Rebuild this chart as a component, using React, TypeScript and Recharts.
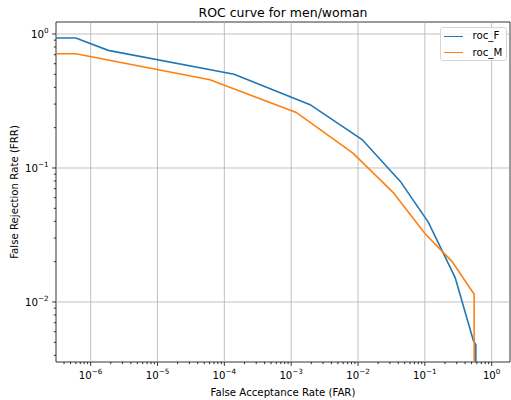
import React from 'react';
import { LineChart, Line, XAxis, YAxis, ReferenceLine, ReferenceArea, Legend } from 'recharts';

// ---- data ----
// 1e-9 stands in for FAR = 0 and 1e-6 for FRR = 0 (clipped on the log axes, as matplotlib does)
const farF = [1e-9, 6.0e-7, 1.83e-6, 1.4e-4, 1.92e-3, 1.15e-2, 4.3e-2, 0.113, 0.284, 0.533, 0.58, 0.58];
const frrF = [0.933, 0.933, 0.755, 0.501, 0.297, 0.163, 0.0794, 0.0393, 0.0152, 0.00514, 0.0048, 1e-6];
const farM = [1e-9, 6.0e-7, 6.1e-5, 1.19e-3, 8.4e-3, 0.0334, 0.101, 0.254, 0.547, 0.547];
const frrM = [0.713, 0.713, 0.456, 0.26, 0.129, 0.0658, 0.0323, 0.0201, 0.0114, 1e-6];

const seriesNames = ['roc_F', 'roc_M'];
const seriesColors = ['#1f77b4', '#ff7f0e'];

const xMajorTicks = [1e-6, 1e-5, 1e-4, 1e-3, 1e-2, 1e-1, 1];
const xMajorExp = ['\u22126', '\u22125', '\u22124', '\u22123', '\u22122', '\u22121', '0'];
const yMajorTicks = [1e-2, 1e-1, 1];
const yMajorExp = ['\u22122', '\u22121', '0'];

const xDomain = [3.03e-7, 1.88];
const yDomain = [3.565e-3, 1.229];

const minorTicks = (lo: number, hi: number, e0: number, e1: number) => {
  const out: number[] = [];
  for (let e = e0; e <= e1; e++) {
    for (let k = 2; k <= 9; k++) {
      const v = k * Math.pow(10, e);
      if (v >= lo && v <= hi) out.push(v);
    }
  }
  return out;
};
const xMinor = minorTicks(xDomain[0], xDomain[1], -7, 0);
const yMinor = minorTicks(yDomain[0], yDomain[1], -3, 0);

const dataF = farF.map((v, i) => ({ far: v, frr: frrF[i] }));
const dataM = farM.map((v, i) => ({ far: v, frr: frrM[i] }));

const FONT = 'DejaVu Sans, sans-serif';
const FS = 10.2;
const SUP = 7.2;

const findMajor = (list: number[], v: number) =>
  list.findIndex((m) => Math.abs(m - v) / m < 1e-9);

const XTick = (props: any) => {
  const { x, y, payload } = props;
  const idx = findMajor(xMajorTicks, payload.value);
  const major = idx >= 0;
  return (
    <g>
      <line x1={x} x2={x} y1={y} y2={y + (major ? 3.9 : 2.2)} stroke="#000" strokeWidth={0.8} />
      {major && (
        <text x={x} y={y + 16.5} textAnchor="middle" fontFamily={FONT} fontSize={FS} fill="#000">
          10<tspan dy={-4.5} fontSize={SUP}>{xMajorExp[idx]}</tspan>
        </text>
      )}
    </g>
  );
};

const YTick = (props: any) => {
  const { x, y, payload } = props;
  const idx = findMajor(yMajorTicks, payload.value);
  const major = idx >= 0;
  return (
    <g>
      <line x1={x} x2={x - (major ? 3.9 : 2.2)} y1={y} y2={y} stroke="#000" strokeWidth={0.8} />
      {major && (
        <text x={x - 7.5} y={y + 3.7} textAnchor="end" fontFamily={FONT} fontSize={FS} fill="#000">
          10<tspan dy={-4.5} fontSize={SUP}>{yMajorExp[idx]}</tspan>
        </text>
      )}
    </g>
  );
};

const renderLegend = (props: any) => {
  const items = props.payload || [];
  return (
    <div
      style={{
        width: 67,
        height: 34,
        boxSizing: 'border-box',
        border: '1px solid #d5d5d5',
        borderRadius: 3,
        background: 'rgba(255,255,255,0.8)',
        position: 'relative',
      }}
    >
      {items.map((it: any, i: number) => (
        <div
          key={i}
          style={{ position: 'absolute', left: 0, top: 0.2 + i * 16.4, height: 16, display: 'flex', alignItems: 'center' }}
        >
          <div style={{ marginLeft: 2.5, width: 19.5, height: 0, borderTop: `1.6px solid ${it.color}` }} />
          <span style={{ marginLeft: 9.5, fontFamily: FONT, fontSize: FS, color: '#000', lineHeight: '16px' }}>
            {it.value}
          </span>
        </div>
      ))}
    </div>
  );
};

export default function App() {
  return (
    <div style={{ position: 'absolute', left: 0, top: 0, width: 511, height: 400, background: '#fff' }}>
      <LineChart width={511} height={400} margin={{ top: 22, right: 1, bottom: 0, left: 0 }}>
        <text x={283} y={16.5} textAnchor="middle" fontFamily={FONT} fontSize={12.5} fill="#000">
          ROC curve for men/woman
        </text>
        <XAxis
          dataKey="far"
          type="number"
          scale="log"
          domain={xDomain}
          allowDataOverflow
          ticks={[...xMajorTicks, ...xMinor]}
          interval={0}
          tick={<XTick />}
          tickLine={false}
          tickSize={0}
          tickMargin={0}
          axisLine={false}
          height={38}
          label={{
            value: 'False Acceptance Rate (FAR)',
            position: 'insideBottom',
            offset: 4,
            fontFamily: FONT,
            fontSize: FS,
            fill: '#000',
          }}
        />
        <YAxis
          dataKey="frr"
          type="number"
          scale="log"
          domain={yDomain}
          allowDataOverflow
          ticks={[...yMajorTicks, ...yMinor]}
          interval={0}
          tick={<YTick />}
          tickLine={false}
          tickSize={0}
          tickMargin={0}
          axisLine={false}
          width={56}
          label={{
            content: (p: any) => {
              const vb = p.viewBox || { x: 0, y: 22, width: 56, height: 340 };
              const cx = 14.5;
              const cy = vb.y + vb.height / 2;
              return (
                <text
                  x={cx}
                  y={cy}
                  transform={`rotate(-90 ${cx} ${cy})`}
                  textAnchor="middle"
                  dominantBaseline="central"
                  fontFamily={FONT}
                  fontSize={FS}
                  fill="#000"
                >
                  False Rejection Rate (FRR)
                </text>
              );
            },
          }}
        />
        {xMajorTicks.map((t) => (
          <ReferenceLine key={'gx' + t} x={t} stroke="#b0b0b0" strokeWidth={0.8} />
        ))}
        {yMajorTicks.map((t) => (
          <ReferenceLine key={'gy' + t} y={t} stroke="#b0b0b0" strokeWidth={0.8} />
        ))}
        <Line
          data={dataF}
          dataKey="frr"
          name={seriesNames[0]}
          stroke={seriesColors[0]}
          strokeWidth={1.6}
          dot={false}
          activeDot={false}
          isAnimationActive={false}
        />
        <Line
          data={dataM}
          dataKey="frr"
          name={seriesNames[1]}
          stroke={seriesColors[1]}
          strokeWidth={1.6}
          dot={false}
          activeDot={false}
          isAnimationActive={false}
        />
        <ReferenceArea
          x1={xDomain[0]}
          x2={xDomain[1]}
          y1={yDomain[0]}
          y2={yDomain[1]}
          fill="none"
          fillOpacity={0}
          stroke="#000"
          strokeWidth={0.8}
          ifOverflow="visible"
        />
        <Legend
          layout="horizontal"
          verticalAlign="middle"
          align="center"
          content={renderLegend}
          wrapperStyle={{ left: 440, top: 27, width: 67, height: 34 }}
        />
      </LineChart>
    </div>
  );
}
